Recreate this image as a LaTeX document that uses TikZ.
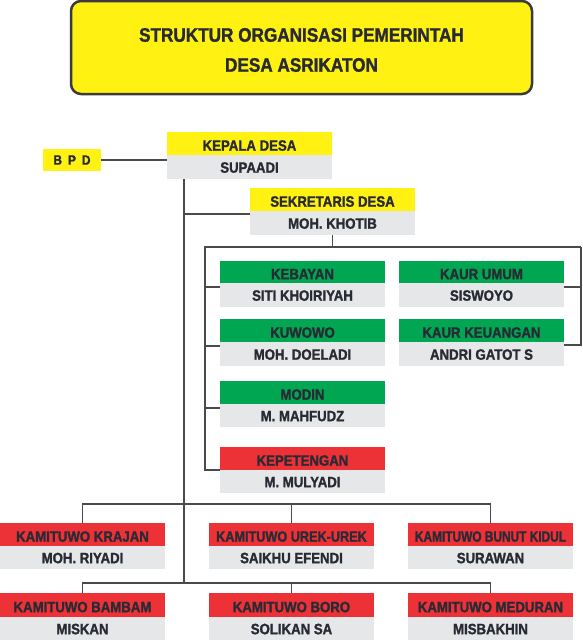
\documentclass[tikz,border=0pt]{standalone}
\usepackage{fontspec}
\setmainfont{Liberation Sans}
\newfontfamily\hvy{Liberation Sans Bold}[FakeStretch=0.88, FakeBold=1.4]
\usepackage{graphicx}
\usetikzlibrary{calc}
\definecolor{cYel}{HTML}{FFF212}
\definecolor{cGrn}{HTML}{00A651}
\definecolor{cRed}{HTML}{EC3237}
\definecolor{cGry}{HTML}{E6E7E8}
\definecolor{cTxt}{HTML}{282A34}
\definecolor{cLine}{HTML}{4A4A4A}
\definecolor{cBord}{HTML}{3A3A3A}
\newcommand\orgbox[8]{%
  \node[headbox, fill=#6, minimum height={#4-#3}] (#1h) at (#2,#3) {#7};
  \node[namebox, minimum height={#5-#4}] (#1n) at (#2,#4) {#8};}
\begin{document}
\begin{tikzpicture}[x=1pt,y=-1pt,
  basebox/.style={anchor=north west, minimum width=165, inner sep=0, outer sep=0,
    text=cTxt, font=\hvy\fontsize{15}{15}\selectfont, text depth=0},
  headbox/.style={basebox, text height=14.4},
  namebox/.style={basebox, fill=cGry, text height=11.4},
  conn/.style={draw=cLine, line width=1.6},
  ttltext/.style={anchor=base, text=cTxt, font=\hvy\fontsize{19.5}{19.5}\selectfont, inner sep=0}]
\useasboundingbox (0,0) rectangle (582,640);
% title
\node[draw=cBord, line width=2.5, fill=cYel, rounded corners=10, minimum width=461,
  minimum height=93, inner sep=0] (ttl) at (301.5,47.5) {};
\node[ttltext] (ttl1) at (301.5,41.7) {STRUKTUR ORGANISASI PEMERINTAH};
\node[ttltext] (ttl2) at (301.5,71.7) {DESA ASRIKATON};
% BPD
\node[fill=cYel, minimum width=58, minimum height=22, inner sep=0, text=cTxt,
  font=\hvy\fontsize{13.5}{13.5}\selectfont, text height=9.3, text depth=0]
  (bpd) at (72,160) {B\hspace{6pt}P\hspace{6pt}D};
% boxes
\orgbox{kep}{167}{132}{155}{179}{cYel}{KEPALA DESA}{SUPAADI}
\orgbox{sek}{250}{188}{211}{235}{cYel}{SEKRETARIS DESA}{MOH. KHOTIB}
\orgbox{keb}{220}{261}{283}{307}{cGrn}{KEBAYAN}{SITI KHOIRIYAH}
\orgbox{kuw}{220}{319}{342}{366}{cGrn}{KUWOWO}{MOH. DOELADI}
\orgbox{mod}{220}{381}{404}{427}{cGrn}{MODIN}{M. MAHFUDZ}
\orgbox{kpt}{220}{447}{470}{493}{cRed}{KEPETENGAN}{M. MULYADI}
\orgbox{kau}{399}{261}{283}{307}{cGrn}{KAUR UMUM}{SISWOYO}
\orgbox{keu}{399}{319}{342}{366}{cGrn}{KAUR KEUANGAN}{ANDRI GATOT S}
\orgbox{kra}{0}{523}{546}{569}{cRed}{KAMITUWO KRAJAN}{MOH. RIYADI}
\orgbox{ure}{209}{523}{546}{569}{cRed}{\scalebox{0.96}[1]{KAMITUWO UREK-UREK}}{SAIKHU EFENDI}
\orgbox{bun}{408}{523}{546}{569}{cRed}{\scalebox{0.9}[1]{KAMITUWO BUNUT KIDUL}}{SURAWAN}
\orgbox{bam}{0}{593}{617}{640}{cRed}{KAMITUWO BAMBAM}{MISKAN}
\orgbox{bor}{209}{593}{617}{640}{cRed}{KAMITUWO BORO}{SOLIKAN SA}
\orgbox{med}{408}{593}{617}{640}{cRed}{KAMITUWO MEDURAN}{MISBAKHIN}
% connectors
\draw[conn] (bpd.east) -- (bpd.east -| kepn.west);
\coordinate (t0) at ($(kepn.south west)+(17,0)$);
\coordinate (t1) at ($(bamh.north west)+(184,-10)$);
\draw[conn] (t0) -- (t1);
\coordinate (sekj) at ($(sekn.north west)+(0,3)$);
\draw[conn] (sekj) -- (sekj -| t0);
\coordinate (bl) at ($(sekn.south)+(-127.5,12)$);
\coordinate (br) at ($(sekn.south)+(248.5,12)$);
\draw[conn] (sekn.south) -- (sekn.south |- bl);
\draw[conn] (br) -- (bl) |- (kpth.south west);
\foreach \n in {keb,kuw,mod} {\draw[conn] ($(\n n.north west)+(0,4)$) -- ++(-15,0);}
\coordinate (kauj) at ($(kaun.north east)+(0,4)$);
\draw[conn] (kauj) -- (kauj -| br);
\draw[conn] (br) |- ($(keun.north east)+(0,3)$);
\draw[conn] (krah.north) -- ++(0,-19) -| (bunh.north);
\draw[conn] (ureh.north) -- ++(0,-19);
\draw[conn] (bamh.north) -- ++(0,-10) -| (medh.north);
\draw[conn] (borh.north) -- ++(0,-10);
\end{tikzpicture}
\end{document}
